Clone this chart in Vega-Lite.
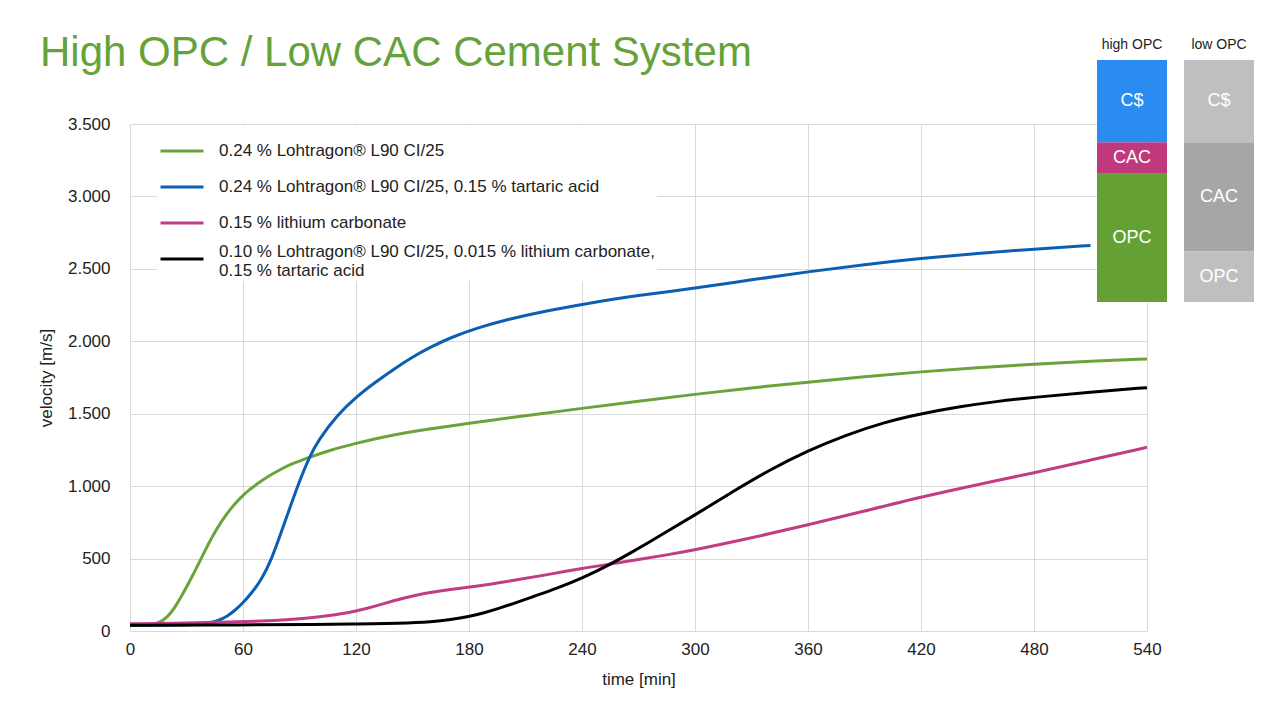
{
  "$schema": "https://vega.github.io/schema/vega-lite/v6.json",
  "width": 1017,
  "height": 507,
  "autosize": {"type": "none"},
  "padding": {"left": 130, "top": 124, "right": 129, "bottom": 84},
  "background": "white",
  "title": {
    "text": "High OPC / Low CAC Cement System",
    "anchor": "start",
    "frame": "group",
    "fontSize": 42,
    "font": "Liberation Sans",
    "fontWeight": "normal",
    "color": "#66a23a",
    "dx": -90,
    "dy": 37,
    "offset": 0
  },
  "datasets": {
    "series": [
      {"s": "g", "label": "0.24 % Lohtragon® L90 CI/25"},
      {"s": "b", "label": "0.24 % Lohtragon® L90 CI/25, 0.15 % tartaric acid"},
      {"s": "m", "label": "0.15 % lithium carbonate"},
      {"s": "k", "label": "0.10 % Lohtragon® L90 CI/25, 0.015 % lithium carbonate,\n0.15 % tartaric acid"}
    ],
    "composition": [
      {"group": "high OPC", "comp": "OPC", "share": 53},
      {"group": "high OPC", "comp": "CAC", "share": 13},
      {"group": "high OPC", "comp": "C$", "share": 34},
      {"group": "low OPC", "comp": "OPC", "share": 21},
      {"group": "low OPC", "comp": "CAC", "share": 45},
      {"group": "low OPC", "comp": "C$", "share": 34}
    ],
    "curves": [
      {"s":"g","t":0,"v":40},{"s":"g","t":10,"v":42},{"s":"g","t":15,"v":52},{"s":"g","t":20,"v":95},{"s":"g","t":24,"v":165},{"s":"g","t":28,"v":255},{"s":"g","t":33,"v":375},{"s":"g","t":37,"v":480},{"s":"g","t":40,"v":559},{"s":"g","t":44,"v":660},{"s":"g","t":49,"v":766},{"s":"g","t":54,"v":855},{"s":"g","t":59,"v":925},{"s":"g","t":64,"v":982},{"s":"g","t":68,"v":1020},{"s":"g","t":73,"v":1065},{"s":"g","t":79,"v":1110},{"s":"g","t":86,"v":1155},{"s":"g","t":95,"v":1199},{"s":"g","t":105,"v":1243},{"s":"g","t":120,"v":1296},{"s":"g","t":135,"v":1343},{"s":"g","t":157,"v":1392},{"s":"g","t":180,"v":1434},{"s":"g","t":210,"v":1487},{"s":"g","t":240,"v":1537},{"s":"g","t":270,"v":1586},{"s":"g","t":300,"v":1634},{"s":"g","t":330,"v":1679},{"s":"g","t":360,"v":1718},{"s":"g","t":390,"v":1755},{"s":"g","t":420,"v":1790},{"s":"g","t":450,"v":1818},{"s":"g","t":480,"v":1843},{"s":"g","t":510,"v":1862},{"s":"g","t":540,"v":1878},
      {"s":"b","t":0,"v":40},{"s":"b","t":20,"v":40},{"s":"b","t":40,"v":45},{"s":"b","t":47,"v":71},{"s":"b","t":52,"v":105},{"s":"b","t":56,"v":145},{"s":"b","t":60,"v":195},{"s":"b","t":65,"v":268},{"s":"b","t":70,"v":360},{"s":"b","t":75,"v":490},{"s":"b","t":80,"v":670},{"s":"b","t":85,"v":855},{"s":"b","t":90,"v":1035},{"s":"b","t":95,"v":1195},{"s":"b","t":100,"v":1318},{"s":"b","t":110,"v":1490},{"s":"b","t":120,"v":1615},{"s":"b","t":130,"v":1715},{"s":"b","t":140,"v":1807},{"s":"b","t":150,"v":1892},{"s":"b","t":160,"v":1962},{"s":"b","t":170,"v":2025},{"s":"b","t":185,"v":2095},{"s":"b","t":200,"v":2150},{"s":"b","t":220,"v":2208},{"s":"b","t":240,"v":2255},{"s":"b","t":270,"v":2318},{"s":"b","t":300,"v":2365},{"s":"b","t":330,"v":2425},{"s":"b","t":360,"v":2480},{"s":"b","t":390,"v":2530},{"s":"b","t":420,"v":2573},{"s":"b","t":450,"v":2607},{"s":"b","t":480,"v":2637},{"s":"b","t":510,"v":2662},
      {"s":"m","t":0,"v":50},{"s":"m","t":30,"v":55},{"s":"m","t":53,"v":63},{"s":"m","t":70,"v":68},{"s":"m","t":83,"v":76},{"s":"m","t":95,"v":90},{"s":"m","t":104,"v":103},{"s":"m","t":112,"v":118},{"s":"m","t":120,"v":137},{"s":"m","t":127,"v":160},{"s":"m","t":134,"v":186},{"s":"m","t":140,"v":209},{"s":"m","t":146,"v":230},{"s":"m","t":153,"v":251},{"s":"m","t":161,"v":270},{"s":"m","t":170,"v":287},{"s":"m","t":180,"v":302},{"s":"m","t":193,"v":326},{"s":"m","t":205,"v":352},{"s":"m","t":220,"v":385},{"s":"m","t":240,"v":432},{"s":"m","t":255,"v":462},{"s":"m","t":270,"v":493},{"s":"m","t":285,"v":525},{"s":"m","t":300,"v":560},{"s":"m","t":330,"v":642},{"s":"m","t":360,"v":732},{"s":"m","t":390,"v":828},{"s":"m","t":420,"v":925},{"s":"m","t":450,"v":1010},{"s":"m","t":480,"v":1092},{"s":"m","t":510,"v":1180},{"s":"m","t":540,"v":1268},
      {"s":"k","t":0,"v":40},{"s":"k","t":60,"v":42},{"s":"k","t":100,"v":45},{"s":"k","t":120,"v":48},{"s":"k","t":143,"v":53},{"s":"k","t":161,"v":64},{"s":"k","t":170,"v":78},{"s":"k","t":180,"v":99},{"s":"k","t":188,"v":125},{"s":"k","t":196,"v":157},{"s":"k","t":205,"v":195},{"s":"k","t":214,"v":237},{"s":"k","t":227,"v":297},{"s":"k","t":240,"v":364},{"s":"k","t":255,"v":460},{"s":"k","t":267,"v":548},{"s":"k","t":276,"v":615},{"s":"k","t":285,"v":686},{"s":"k","t":300,"v":801},{"s":"k","t":320,"v":962},{"s":"k","t":340,"v":1115},{"s":"k","t":360,"v":1245},{"s":"k","t":380,"v":1352},{"s":"k","t":400,"v":1440},{"s":"k","t":420,"v":1500},{"s":"k","t":440,"v":1548},{"s":"k","t":460,"v":1585},{"s":"k","t":480,"v":1613},{"s":"k","t":510,"v":1650},{"s":"k","t":540,"v":1680}
    ]
  },
  "layer": [
    {
      "data": {"name": "curves"},
      "transform": [
        {"lookup": "s", "from": {"data": {"name": "series"}, "key": "s", "fields": ["label"]}}
      ],
      "mark": {"type": "line", "interpolate": "basis", "strokeWidth": 3},
      "encoding": {
        "x": {
          "field": "t", "type": "quantitative",
          "scale": {"domain": [0, 540], "nice": false},
          "axis": {
            "values": [0, 60, 120, 180, 240, 300, 360, 420, 480, 540],
            "title": "time [min]",
            "labelFlush": false,
            "ticks": false,
            "domain": false,
            "labelPadding": 10,
            "titlePadding": 14,
            "labelFontSize": 17,
            "titleFontSize": 17,
            "titleFontWeight": "normal",
            "gridColor": "#d9d9d9"
          }
        },
        "y": {
          "field": "v", "type": "quantitative",
          "scale": {"domain": [0, 3500], "nice": false},
          "axis": {
            "values": [0, 500, 1000, 1500, 2000, 2500, 3000, 3500],
            "labelExpr": "replace(format(datum.value, ',d'), ',', '.')",
            "title": "velocity [m/s]",
            "ticks": false,
            "domain": false,
            "labelPadding": 20,
            "titlePadding": 12,
            "labelFontSize": 17,
            "titleFontSize": 17,
            "titleFontWeight": "normal",
            "gridColor": "#d9d9d9"
          }
        },
        "color": {
          "field": "label", "type": "nominal",
          "scale": {
            "domain": [
              "0.24 % Lohtragon® L90 CI/25",
              "0.24 % Lohtragon® L90 CI/25, 0.15 % tartaric acid",
              "0.15 % lithium carbonate",
              "0.10 % Lohtragon® L90 CI/25, 0.015 % lithium carbonate,\n0.15 % tartaric acid"
            ],
            "range": ["#6aa33a", "#0b5fb3", "#c23c85", "#000000"]
          },
          "legend": {
            "title": null,
            "orient": "none",
            "legendX": 27,
            "legendY": 2,
            "fillColor": "white",
            "padding": 2,
            "symbolType": "stroke",
            "symbolSize": 1849,
            "symbolStrokeWidth": 3,
            "labelFontSize": 17,
            "labelOffset": 14,
            "labelLimit": 700,
            "rowPadding": 5,
            "labelExpr": "split(datum.label, '\\n')",
            "encode": {
              "labels": {
                "update": {
                  "dy": {"signal": "indexof(datum.value, '\\n') >= 0 ? -7 : 0"}
                }
              }
            }
          }
        }
      }
    },
    {
      "data": {"name": "composition"},
      "transform": [
        {"stack": "share", "groupby": ["group"], "sort": [{"field": "comp", "order": "descending"}], "as": ["lo", "hi"], "offset": "zero"},
        {"calculate": "(datum.lo + datum.hi) / 2", "as": "mid"},
        {"calculate": "datum.group + ' ' + datum.comp", "as": "key"}
      ],
      "encoding": {
        "x": {
          "field": "group", "type": "nominal",
          "scale": {"domain": ["high OPC", "low OPC"], "range": [967, 1124], "paddingInner": 0.1954, "paddingOuter": 0},
          "axis": null
        }
      },
      "layer": [
        {
          "mark": {"type": "bar"},
          "encoding": {
            "y": {"field": "lo", "type": "quantitative", "scale": {"domain": [0, 100], "range": [178, -64], "nice": false}, "axis": null},
            "y2": {"field": "hi"},
            "color": {
              "field": "key", "type": "nominal",
              "scale": {
                "domain": ["high OPC C$", "high OPC CAC", "high OPC OPC", "low OPC C$", "low OPC CAC", "low OPC OPC"],
                "range": ["#2a8cf0", "#c0397f", "#64a033", "#bfbfbf", "#a6a6a6", "#bfbfbf"]
              },
              "legend": null
            }
          }
        },
        {
          "mark": {"type": "text", "color": "white", "fontSize": 18, "font": "Liberation Sans"},
          "encoding": {
            "y": {"field": "mid", "type": "quantitative"},
            "text": {"field": "comp"}
          }
        },
        {
          "transform": [{"filter": "datum.comp === 'C$'"}],
          "mark": {"type": "text", "color": "#222222", "fontSize": 14, "font": "Liberation Sans", "baseline": "alphabetic", "dy": -11},
          "encoding": {
            "y": {"datum": 100},
            "text": {"field": "group"}
          }
        }
      ]
    }
  ],
  "resolve": {"scale": {"x": "independent", "y": "independent", "color": "independent"}},
  "config": {
    "font": "Liberation Sans",
    "view": {"stroke": null},
    "axis": {"labelColor": "#222222", "titleColor": "#222222", "labelFont": "Liberation Sans", "titleFont": "Liberation Sans"},
    "legend": {"labelColor": "#222222", "labelFont": "Liberation Sans"}
  }
}
